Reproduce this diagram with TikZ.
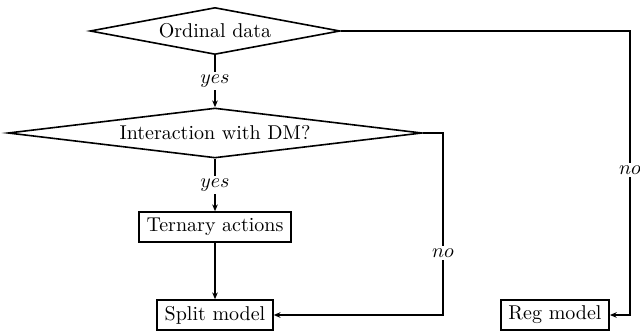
\documentclass[tikz,border=0pt]{standalone}
\usetikzlibrary{shapes.geometric,arrows.meta}
\begin{document}
\begin{tikzpicture}[x=0.5pt,y=-0.5pt,
  dec/.style={draw,thick,shape=diamond,inner sep=0pt},
  box/.style={draw,thick,rectangle,inner xsep=3.8pt,inner ysep=0pt,minimum height=15pt},
  arr/.style={thick,-{Stealth[length=3.4pt,width=2.8pt]}},
  lbl/.style={fill=white,inner sep=1.5pt}]
\useasboundingbox (0,0) rectangle (640,331);
\node[dec,minimum width=125pt,minimum height=23.5pt,shape aspect=5.3] (od) at (215,31) {Ordinal data};
\node[dec,minimum width=207pt,minimum height=25pt,shape aspect=8.3] (inter) at (215,133) {Interaction with DM?};
\node[box] (tern) at (215,227) {Ternary actions};
\node[box] (split) at (215,315) {Split model};
\node[box] (reg) at (555,315) {Reg model};
\coordinate (c1) at (443,133);
\coordinate (c2) at (443,315);
\coordinate (c3) at (630,31);
\coordinate (c4) at (630,315);
\draw[arr] (od) -- node[lbl]{$yes$} (inter);
\draw[arr] (inter) -- node[lbl]{$yes$} (tern);
\draw[arr] (tern) -- (split);
\draw[arr] (inter.east) -- (c1) -- node[lbl,pos=0.66]{$no$} (c2) -- (split.east);
\draw[arr] (od.east) -- (c3) -- node[lbl,pos=0.49]{$no$} (c4) -- (reg.east);
\end{tikzpicture}
\end{document}
